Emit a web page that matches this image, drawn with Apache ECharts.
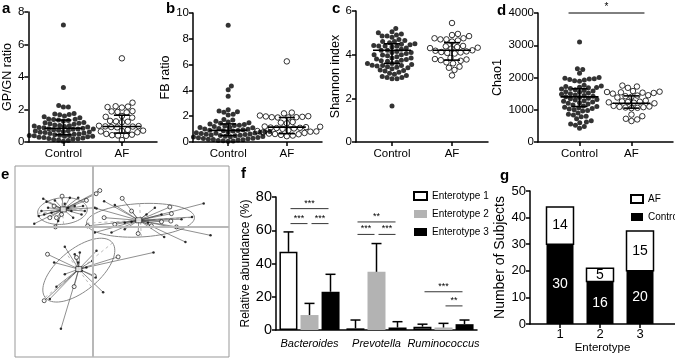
<!DOCTYPE html>
<html>
<head>
<meta charset="utf-8">
<script src="https://cdn.jsdelivr.net/npm/echarts@6/dist/echarts.min.js"></script>
<style>
  html, body { margin: 0; padding: 0; background: #fff; }
  #main { width: 675px; height: 358px; }
</style>
</head>
<body>
<div id="main"></div>
<script>
// ---- data ----
const groups = ['Control', 'AF'];

// a: GP/GN ratio
const gpgnControl = [7.2, 3.35, 2.25, 2.15, 2.15, 1.75, 1.72, 1.7, 1.68, 1.6, 1.55, 1.5, 1.42, 1.4, 1.38,
  1.35, 1.33, 1.3, 1.2, 1.18, 1.15, 1.12, 1.1, 1.05, 1.02, 1.0, 0.98, 0.95, 0.92, 0.9, 0.88, 0.85, 0.82,
  0.8, 0.8, 0.78, 0.75, 0.72, 0.7, 0.68, 0.65, 0.62, 0.6, 0.58, 0.55, 0.52, 0.5, 0.48, 0.45, 0.42, 0.4,
  0.4, 0.38, 0.36, 0.35, 0.33, 0.3, 0.28, 0.25, 0.22, 0.2, 0.18, 0.15, 0.12, 0.1, 0.05];
const gpgnAF = [5.15, 2.42, 2.2, 2.18, 2.15, 2.12, 1.9, 1.88, 1.85, 1.82, 1.6, 1.55, 1.5, 1.3, 1.27, 1.25,
  1.22, 1.0, 0.98, 0.96, 0.95, 0.92, 0.9, 0.75, 0.7, 0.68, 0.65, 0.6, 0.5, 0.45, 0.42, 0.4, 0.38, 0.12];
const gpgnSummary = [[0.85, 0.45, 1.35], [0.95, 0.55, 1.65]];   // [centre, low, high]

// b: FB ratio
const fbControl = [9.05, 4.35, 4.05, 3.55, 2.5, 2.4, 2.35, 2.3, 2.15, 2.1, 1.75, 1.7, 1.6, 1.55, 1.5, 1.45,
  1.4, 1.35, 1.3, 1.28, 1.25, 1.2, 1.15, 1.12, 1.1, 1.05, 1.0, 0.98, 0.95, 0.92, 0.9, 0.88, 0.85, 0.82, 0.8,
  0.78, 0.75, 0.72, 0.7, 0.68, 0.65, 0.62, 0.6, 0.58, 0.55, 0.52, 0.5, 0.48, 0.45, 0.42, 0.4, 0.38, 0.35,
  0.33, 0.3, 0.28, 0.25, 0.22, 0.2, 0.18, 0.15, 0.12, 0.1, 0.08, 0.05, 0.6];
const fbAF = [6.25, 2.28, 2.22, 2.05, 2.0, 1.98, 1.95, 1.92, 1.9, 1.9, 1.92, 1.55, 1.5, 1.45, 1.2, 1.18,
  1.15, 1.12, 1.1, 1.08, 1.05, 1.02, 0.9, 0.85, 0.82, 0.8, 0.75, 0.7, 0.65, 0.62, 0.6, 0.55, 0.5, 0.45];
const fbSummary = [[0.9, 0.5, 1.4], [1.15, 0.65, 1.9]];

// c: Shannon index
const shannonControl = [5.2, 5.05, 5.0, 4.95, 4.9, 4.85, 4.85, 4.8, 4.6, 4.6, 4.55, 4.5, 4.48, 4.45, 4.42,
  4.4, 4.4, 4.38, 4.35, 4.3, 4.25, 4.2, 4.2, 4.15, 4.1, 4.05, 4.0, 4.0, 3.98, 3.95, 3.9, 3.85, 3.8, 3.78,
  3.75, 3.72, 3.7, 3.65, 3.6, 3.55, 3.52, 3.5, 3.5, 3.48, 3.45, 3.42, 3.4, 3.35, 3.3, 3.28, 3.25, 3.2, 3.15,
  3.1, 3.05, 3.0, 2.95, 2.9, 2.9, 2.95, 4.7, 4.65, 4.1, 3.85, 3.6, 1.65];
const shannonAF = [5.45, 4.95, 4.9, 4.85, 4.75, 4.75, 4.7, 4.7, 4.65, 4.6, 4.4, 4.38, 4.35, 4.32, 4.3, 4.28,
  4.2, 4.18, 4.15, 4.12, 4.1, 4.08, 4.05, 3.85, 3.8, 3.78, 3.75, 3.72, 3.65, 3.6, 3.45, 3.4, 3.3, 3.05];
const shannonSummary = [[4.2, 3.6, 4.5], [4.2, 3.75, 4.55]];

// d: Chao1
const chao1Control = [3100, 2270, 2250, 2130, 2000, 1980, 1960, 1950, 1940, 1920, 1900, 1880, 1760, 1740,
  1720, 1700, 1690, 1680, 1660, 1640, 1620, 1600, 1580, 1560, 1540, 1520, 1500, 1480, 1460, 1440, 1420,
  1400, 1380, 1360, 1340, 1320, 1300, 1280, 1260, 1240, 1220, 1200, 1180, 1150, 1120, 1100, 1080, 1060,
  1040, 1020, 1000, 980, 960, 900, 860, 840, 800, 780, 720, 660, 620, 600, 560, 520, 480, 430];
const chao1AF = [1750, 1720, 1680, 1580, 1560, 1550, 1540, 1530, 1520, 1500, 1450, 1440, 1420, 1400, 1380,
  1280, 1260, 1250, 1240, 1230, 1220, 1200, 1120, 1100, 1090, 1080, 1070, 1060, 1050, 850, 800, 720, 700, 650];
const chao1Summary = [[1400, 1100, 1650], [1200, 1050, 1430]];
const chao1Sig = [[0, 1, 4000, 1]];   // [from group, to group, level, stars]

// e: PCoA, points [x, y, open?] and cluster centroids
const pcoaCluster1 = [[-0.301, 0.013, 0], [-0.278, 0.051, 0], [-0.255, 0.137, 0], [-0.238, 0.122, 0],
  [-0.250, 0.059, 0], [-0.230, 0.092, 0], [-0.212, 0.068, 0], [-0.195, 0.129, 0], [-0.187, 0.043, 1],
  [-0.192, -0.003, 1], [-0.158, 0.150, 1], [-0.178, 0.026, 0], [-0.127, 0.092, 0], [-0.110, 0.076, 0],
  [-0.093, 0.101, 0], [-0.075, 0.142, 0], [-0.050, 0.101, 0], [-0.041, 0.076, 0], [-0.033, 0.129, 1],
  [-0.058, 0.059, 0], [0.017, 0.162, 1], [0.036, 0.178, 1], [0.010, 0.092, 0], [-0.264, 0.076, 0],
  [-0.221, 0.043, 1], [-0.199, 0.101, 1], [-0.144, 0.112, 0], [-0.101, 0.043, 0], [-0.161, 0.059, 1],
  [-0.118, 0.142, 0]];
const pcoaCluster2 = [[0.058, 0.125, 0], [0.113, 0.106, 0], [0.151, 0.139, 1], [0.199, 0.076, 1],
  [0.019, 0.089, 0], [0.058, 0.043, 1], [-0.027, 0.002, 1], [0.010, -0.031, 0], [0.096, -0.031, 0],
  [0.164, -0.015, 0], [0.233, -0.036, 1], [0.276, 0.059, 0], [0.319, 0.092, 0], [0.396, 0.096, 1],
  [0.404, 0.063, 1], [0.401, 0.026, 1], [0.430, -0.003, 1], [0.510, 0.046, 0], [0.570, 0.114, 0],
  [0.605, -0.045, 0], [0.476, -0.078, 0], [0.367, -0.053, 0], [0.301, 0.002, 1], [0.353, 0.023, 1],
  [0.456, 0.035, 0], [0.164, 0.018, 0], [0.199, 0.023, 0], [0.284, 0.018, 0], [0.113, 0.010, 1],
  [0.353, 0.059, 0]];
const pcoaCluster3 = [[-0.233, -0.139, 1], [-0.199, -0.180, 0], [-0.144, -0.102, 0], [-0.093, -0.139, 0],
  [-0.067, -0.130, 0], [-0.075, -0.180, 0], [-0.003, -0.172, 0], [0.019, -0.122, 0], [0.007, -0.246, 1],
  [0.015, -0.254, 0], [0.130, -0.152, 1], [0.312, -0.130, 0], [0.053, -0.328, 0], [-0.096, -0.300, 1],
  [-0.187, -0.300, 0], [-0.221, -0.361, 0], [-0.250, -0.370, 1], [-0.164, -0.510, 0], [-0.058, -0.221, 0],
  [-0.144, -0.238, 0], [-0.033, -0.205, 0], [-0.084, -0.155, 1]];
const pcoaCentroids = [[-0.152, 0.084], [0.236, 0.030], [-0.072, -0.213]];
const pcoaEllipses = [[-0.156, 0.076, 0.128, 0.066, 5], [0.245, 0.030, 0.278, 0.083, 3],
  [-0.072, -0.218, 0.22, 0.105, 38]];   // [cx, cy, a, b, angle]

// f: relative abundance per enterotype
const genera = ['Bacteroides', 'Prevotella', 'Ruminococcus'];
const enterotypes = ['Enterotype 1', 'Enterotype 2', 'Enterotype 3'];
const abundMean = [[47, 1, 2], [9, 35, 1.5], [23, 1.5, 3.5]];
const abundSD = [[12, 5, 1.5], [7, 17, 2.5], [10.5, 3.5, 2.5]];
const abundSig = [[0, 0, 2, 73, 3], [0, 0, 1, 64, 3], [0, 1, 2, 64, 3],
  [1, 0, 2, 65, 2], [1, 0, 1, 57.5, 3], [1, 1, 2, 57.5, 3],
  [2, 0, 2, 23, 3], [2, 1, 2, 14.5, 2]];   // [genus, from bar, to bar, level, stars]

// g: subjects per enterotype
const enterotypeLabels = ['1', '2', '3'];
const subjectsControl = [30, 16, 20];
const subjectsAF = [14, 5, 15];

// ---- chart ----
const FONT = 'Liberation Sans, Arial, sans-serif';
const chart = echarts.init(document.getElementById('main'));
const grids = [], xAxes = [], yAxes = [], series = [];
const axisLine = { color: '#000', width: 1.5 };

function swarm(values, center, pxX, pxY, d) {
  const order = values.map((v, i) => i).sort((a, b) => values[a] - values[b]);
  const placed = [], out = [];
  order.forEach(i => {
    const y = values[i] * pxY;
    const near = placed.filter(p => Math.abs(p.y - y) < d);
    const cands = [0];
    near.forEach(p => {
      const dx = Math.sqrt(d * d - (p.y - y) ** 2);
      cands.push(p.x + dx, p.x - dx);
    });
    cands.sort((a, b) => Math.abs(a) - Math.abs(b));
    const x = cands.find(c => near.every(p => (c - p.x) ** 2 + (p.y - y) ** 2 >= d * d - 0.01));
    placed.push({ x, y });
    out.push([center + x / pxX, values[i]]);
  });
  return out;
}

function summaryItem(params, api) {
  const x = api.value(0);
  const m = api.coord([x, api.value(1)]);
  const lo = api.coord([x, api.value(2)]);
  const hi = api.coord([x, api.value(3)]);
  const st = { stroke: '#000', lineWidth: 1.6 };
  return { type: 'group', children: [
    { type: 'line', shape: { x1: m[0] - 19, y1: m[1], x2: m[0] + 19, y2: m[1] }, style: st },
    { type: 'line', shape: { x1: lo[0], y1: lo[1], x2: hi[0], y2: hi[1] }, style: st },
    { type: 'line', shape: { x1: lo[0] - 8, y1: lo[1], x2: lo[0] + 8, y2: lo[1] }, style: st },
    { type: 'line', shape: { x1: hi[0] - 8, y1: hi[1], x2: hi[0] + 8, y2: hi[1] }, style: st }
  ] };
}

function yAxisBase(gi, max, step, name, gap, fs, nameFs) {
  return {
    gridIndex: gi, type: 'value', min: 0, max: max, interval: step,
    name: name, nameLocation: 'middle', nameGap: gap,
    nameTextStyle: { color: '#000', fontSize: nameFs, fontFamily: FONT },
    axisLine: { show: true, onZero: false, lineStyle: axisLine },
    axisTick: { show: true, length: 4, lineStyle: axisLine },
    axisLabel: { color: '#000', fontSize: fs, fontFamily: FONT, margin: 4, formatter: v => String(v) },
    splitLine: { show: false }
  };
}

function addDotPanel(key, box, xr, ctrl, af, summary, yMax, yStep, yName, gap) {
  const gi = grids.length;
  grids.push({ left: box[0], top: box[1], width: box[2], height: box[3] });
  xAxes.push({
    gridIndex: gi, type: 'value', min: xr[0], max: xr[1],
    axisLine: { onZero: false, lineStyle: axisLine },
    axisTick: { customValues: [0, 1], length: 4, lineStyle: axisLine },
    axisLabel: { customValues: [0, 1], formatter: v => groups[v], color: '#000', fontSize: 11.5, fontFamily: FONT, margin: 6 },
    splitLine: { show: false }
  });
  yAxes.push(yAxisBase(gi, yMax, yStep, yName, gap, 11.5, 12.5));
  const pxX = box[2] / (xr[1] - xr[0]);
  const pxY = box[3] / yMax;
  series.push({ type: 'scatter', name: key + ' Control', xAxisIndex: gi, yAxisIndex: gi,
    data: swarm(ctrl, 0, pxX, pxY, 5), symbolSize: 5, itemStyle: { color: '#000' } });
  series.push({ type: 'scatter', name: key + ' AF', xAxisIndex: gi, yAxisIndex: gi,
    data: swarm(af, 1, pxX, pxY, 6), symbolSize: 5.5,
    itemStyle: { color: 'rgba(0,0,0,0)', borderColor: '#000', borderWidth: 1 } });
  series.push({ type: 'custom', name: key + ' summary', xAxisIndex: gi, yAxisIndex: gi, z: 5,
    data: summary.map((s, i) => [i, s[0], s[1], s[2]]), renderItem: summaryItem });
  return gi;
}

addDotPanel('gpgn', [27, 12, 130, 130], [-0.6, 1.6], gpgnControl, gpgnAF, gpgnSummary, 8, 2, 'GP/GN ratio', 13);
addDotPanel('fb', [193, 13, 129, 129], [-0.6, 1.6], fbControl, fbAF, fbSummary, 10, 2, 'FB ratio', 16);
addDotPanel('shannon', [356, 11, 132, 131], [-0.6, 1.6], shannonControl, shannonAF, shannonSummary, 6, 2, 'Shannon index', 13);
const dIdx = addDotPanel('chao1', [538, 13, 135, 129], [-0.8, 1.8], chao1Control, chao1AF, chao1Summary, 4000, 1000, 'Chao1', 29);
series.push({
  type: 'custom', name: 'chao1 sig', xAxisIndex: dIdx, yAxisIndex: dIdx, data: chao1Sig,
  renderItem: (params, api) => {
    const a = api.coord([api.value(0), api.value(2)]);
    const b = api.coord([api.value(1), api.value(2)]);
    return { type: 'group', children: [
      { type: 'line', shape: { x1: a[0] - 11, y1: a[1], x2: b[0] + 13, y2: b[1] }, style: { stroke: '#000', lineWidth: 1 } },
      { type: 'text', x: (a[0] + b[0]) / 2 + 1, y: a[1] - 1,
        style: { text: '*'.repeat(api.value(3)), fontSize: 10, fontFamily: FONT, fill: '#000', align: 'center', verticalAlign: 'bottom' } }
    ] };
  }
});

// e: PCoA
const eIdx = grids.length;
grids.push({ left: 15, top: 166, width: 214, height: 191, show: true, borderColor: '#999', borderWidth: 1 });
xAxes.push({ gridIndex: eIdx, type: 'value', min: -0.4, max: 0.7, show: false });
yAxes.push({ gridIndex: eIdx, type: 'value', min: -0.65, max: 0.3, show: false });
const clusters = [pcoaCluster1, pcoaCluster2, pcoaCluster3];
const spokes = [];
clusters.forEach((pts, k) => pts.forEach(p => spokes.push({ coords: [[p[0], p[1]], pcoaCentroids[k]] })));
const allPts = clusters.flat();
series.push({
  type: 'custom', name: 'pcoa ellipse', xAxisIndex: eIdx, yAxisIndex: eIdx, data: pcoaEllipses, z: 1,
  renderItem: (params, api) => {
    const cx = api.value(0), cy = api.value(1), a = api.value(2), b = api.value(3);
    const th = api.value(4) * Math.PI / 180;
    const pt = (u, v) => api.coord([cx + u * Math.cos(th) - v * Math.sin(th), cy + u * Math.sin(th) + v * Math.cos(th)]);
    const ring = [];
    for (let k = 0; k <= 72; k++) {
      const t = k / 72 * Math.PI * 2;
      ring.push(pt(a * Math.cos(t), b * Math.sin(t)));
    }
    const p1 = pt(-a, 0), p2 = pt(a, 0), p3 = pt(0, -b), p4 = pt(0, b);
    const dash = { stroke: '#aaa', lineWidth: 0.8, lineDash: [3, 3] };
    return { type: 'group', children: [
      { type: 'polyline', shape: { points: ring }, style: { stroke: '#888', fill: 'none', lineWidth: 1 } },
      { type: 'line', shape: { x1: p1[0], y1: p1[1], x2: p2[0], y2: p2[1] }, style: dash },
      { type: 'line', shape: { x1: p3[0], y1: p3[1], x2: p4[0], y2: p4[1] }, style: dash }
    ] };
  }
});
series.push({
  type: 'lines', coordinateSystem: 'cartesian2d', xAxisIndex: eIdx, yAxisIndex: eIdx, z: 2,
  data: spokes, lineStyle: { color: '#444', width: 0.6, opacity: 1 }, silent: true
});
series.push({
  type: 'scatter', name: 'pcoa filled', xAxisIndex: eIdx, yAxisIndex: eIdx, z: 3,
  data: allPts.filter(p => !p[2]).map(p => [p[0], p[1]]), symbolSize: 2.5, itemStyle: { color: '#000' },
  markLine: {
    silent: true, symbol: ['none', 'none'], label: { show: false },
    lineStyle: { color: '#b8b8b8', type: 'solid', width: 2 },
    data: [{ xAxis: 0 }, { yAxis: 0 }]
  }
});
series.push({
  type: 'scatter', name: 'pcoa open', xAxisIndex: eIdx, yAxisIndex: eIdx, z: 3,
  data: allPts.filter(p => p[2]).map(p => [p[0], p[1]]), symbolSize: 4,
  itemStyle: { color: '#fff', borderColor: '#000', borderWidth: 0.8 }
});
series.push({
  type: 'scatter', name: 'pcoa centroid', xAxisIndex: eIdx, yAxisIndex: eIdx, z: 4,
  data: pcoaCentroids, symbol: 'rect', symbolSize: [6, 5],
  itemStyle: { color: '#fff', borderColor: '#000', borderWidth: 0.8 }
});

// f: relative abundance bars
const fIdx = grids.length;
grids.push({ left: 276, top: 197, width: 201, height: 133 });
xAxes.push({
  gridIndex: fIdx, type: 'category', data: genera,
  axisLine: { lineStyle: axisLine },
  axisTick: { alignWithLabel: true, length: 4, lineStyle: axisLine },
  axisLabel: { color: '#000', fontSize: 11, fontStyle: 'italic', fontFamily: FONT, margin: 8, interval: 0 }
});
yAxes.push(yAxisBase(fIdx, 80, 20, 'Relative abundance (%)', 23, 14.5, 12));
const barStyles = [
  { color: '#fff', borderColor: '#000', borderWidth: 1.5 },
  { color: '#b3b3b3' },
  { color: '#000' }
];
enterotypes.forEach((name, i) => {
  series.push({
    type: 'bar', name: name, xAxisIndex: fIdx, yAxisIndex: fIdx, data: abundMean[i],
    barWidth: 18, barGap: '17%', itemStyle: barStyles[i]
  });
});
enterotypes.forEach((name, i) => {
  series.push({
    type: 'custom', name: name + ' sd', xAxisIndex: fIdx, yAxisIndex: fIdx, z: 3,
    data: genera.map((g, j) => [j, abundMean[i][j], abundSD[i][j]]),
    renderItem: (params, api) => {
      const lo = api.coord([api.value(0), api.value(1)]);
      const hi = api.coord([api.value(0), api.value(1) + api.value(2)]);
      const x = lo[0] + (i - 1) * 21;
      const st = { stroke: '#000', lineWidth: 1.5 };
      return { type: 'group', children: [
        { type: 'line', shape: { x1: x, y1: lo[1], x2: x, y2: hi[1] }, style: st },
        { type: 'line', shape: { x1: x - 5, y1: hi[1], x2: x + 5, y2: hi[1] }, style: st }
      ] };
    }
  });
});
series.push({
  type: 'custom', name: 'abund sig', xAxisIndex: fIdx, yAxisIndex: fIdx, data: abundSig,
  renderItem: (params, api) => {
    const c = api.coord([api.value(0), api.value(3)]);
    const x1 = c[0] + (api.value(1) - 1) * 21 + 2;
    const x2 = c[0] + (api.value(2) - 1) * 21 - 2;
    return { type: 'group', children: [
      { type: 'line', shape: { x1: x1, y1: c[1], x2: x2, y2: c[1] }, style: { stroke: '#000', lineWidth: 0.8 } },
      { type: 'text', x: (x1 + x2) / 2, y: c[1] - 1,
        style: { text: '*'.repeat(api.value(4)), fontSize: 9, fontFamily: FONT, fill: '#000', align: 'center', verticalAlign: 'bottom' } }
    ] };
  }
});

// g: subjects per enterotype (value x axis so the bars sit where the figure puts them)
const gIdx = grids.length;
grids.push({ left: 530, top: 191, width: 145, height: 133 });
xAxes.push({
  gridIndex: gIdx, type: 'value', min: 0.25, max: 3.875,
  name: 'Enterotype', nameLocation: 'middle', nameGap: 18,
  nameTextStyle: { color: '#000', fontSize: 11.5, fontFamily: FONT },
  axisLine: { onZero: false, lineStyle: axisLine },
  axisTick: { customValues: [1, 2, 3], length: 4, lineStyle: axisLine },
  axisLabel: { customValues: [1, 2, 3], formatter: v => enterotypeLabels[v - 1], color: '#000', fontSize: 13, fontFamily: FONT, margin: 4 },
  splitLine: { show: false }
});
yAxes.push(yAxisBase(gIdx, 50, 10, 'Number of Subjects', 18, 13, 14));
series.push({
  type: 'bar', name: 'Control', xAxisIndex: gIdx, yAxisIndex: gIdx,
  data: subjectsControl.map((v, i) => [i + 1, v]), barWidth: 27, itemStyle: { color: '#000' },
  label: { show: true, position: 'inside', color: '#fff', fontSize: 14, fontFamily: FONT, formatter: p => p.value[1] }
});
// AF segment stacked on top of the Control bar
series.push({
  type: 'custom', name: 'AF', xAxisIndex: gIdx, yAxisIndex: gIdx,
  itemStyle: { color: '#fff', borderColor: '#000', borderWidth: 1.5 },
  data: subjectsAF.map((v, i) => [i + 1, subjectsControl[i], v]),
  renderItem: (params, api) => {
    const x = api.value(0), base = api.value(1), v = api.value(2);
    const p0 = api.coord([x, base]);
    const p1 = api.coord([x, base + v]);
    return { type: 'group', children: [
      { type: 'rect', shape: { x: p0[0] - 13.5, y: p1[1], width: 27, height: p0[1] - p1[1] },
        style: { fill: '#fff', stroke: '#000', lineWidth: 1.5 } },
      { type: 'text', x: p0[0], y: (p0[1] + p1[1]) / 2,
        style: { text: String(v), fontSize: 14, fontFamily: FONT, fill: '#000', align: 'center', verticalAlign: 'middle' } }
    ] };
  }
});

const letters = [['a', 2, 1], ['b', 166, 1], ['c', 332, 1], ['d', 497, 3], ['e', 1, 167], ['f', 241, 166], ['g', 500, 168]];

chart.setOption({
  animation: false,
  grid: grids,
  xAxis: xAxes,
  yAxis: yAxes,
  legend: [
    {
      data: enterotypes, left: 408, top: 186, orient: 'vertical', icon: 'rect', selectedMode: false,
      itemWidth: 13, itemHeight: 8, itemGap: 8,
      textStyle: { color: '#000', fontSize: 10, fontFamily: FONT }
    },
    {
      data: ['AF', 'Control'], left: 625, top: 189, orient: 'vertical', icon: 'rect', selectedMode: false,
      itemWidth: 12, itemHeight: 8, itemGap: 8,
      textStyle: { color: '#000', fontSize: 10, fontFamily: FONT }
    }
  ],
  graphic: letters.map(l => ({
    type: 'text', left: l[1], top: l[2],
    style: { text: l[0], font: 'bold 15px ' + FONT, fill: '#000' }
  })),
  series: series
});
</script>
</body>
</html>
